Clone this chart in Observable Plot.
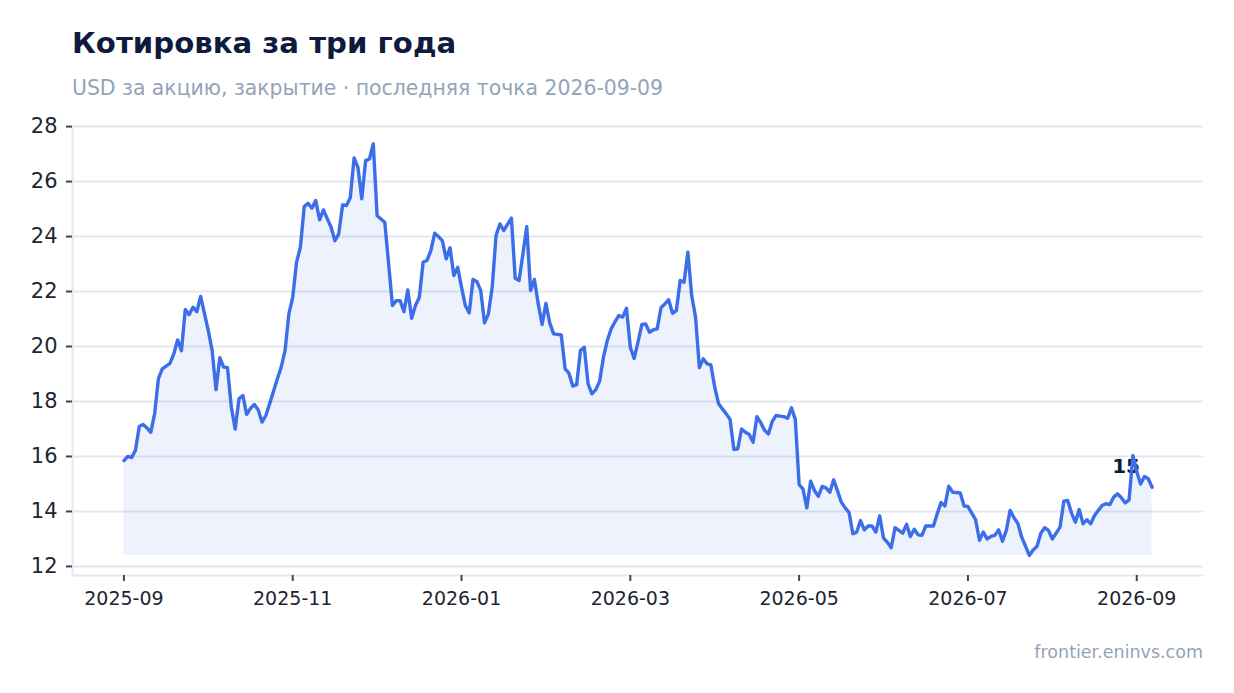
<!DOCTYPE html>
<html>
<head>
<meta charset="utf-8">
<script src="https://cdn.jsdelivr.net/npm/d3@7"></script>
<script src="https://cdn.jsdelivr.net/npm/@observablehq/plot@0.6"></script>
<style>
  html, body { margin: 0; padding: 0; background: #ffffff; }
  #wrap { position: relative; width: 1234px; height: 693px; font-family: "DejaVu Sans", sans-serif; }
  .title { position: absolute; left: 72px; top: 29px; font-size: 29.2px; line-height: 1; font-weight: bold; color: #0f1b3d; white-space: nowrap; }
  .subtitle { position: absolute; left: 72px; top: 78px; font-size: 20.4px; line-height: 1; color: #94a3b8; white-space: nowrap; }
  .caption { position: absolute; right: 31px; top: 644px; font-size: 17.5px; line-height: 1; color: #94a3b8; white-space: nowrap; }
  #chart { position: absolute; left: 0; top: 105px; }
</style>
</head>
<body>
<div id="wrap">
  <div class="title">Котировка за три года</div>
  <div class="subtitle">USD за акцию, закрытие · последняя точка 2026-09-09</div>
  <div id="chart"></div>
  <div class="caption">frontier.eninvs.com</div>
</div>
<script>
// Closing price per trading session (index 0 = first session of 2025-09)
const prices = [
  15.85, 16.0, 15.96, 16.22, 17.09, 17.16, 17.04, 16.88, 17.55, 18.83,
  19.19, 19.29, 19.39, 19.73, 20.24, 19.85, 21.35, 21.16, 21.43, 21.27,
  21.82, 21.2, 20.58, 19.85, 18.43, 19.59, 19.25, 19.23, 17.79, 17.0,
  18.1, 18.22, 17.53, 17.75, 17.89, 17.7, 17.25, 17.49, 17.93, 18.37,
  18.83, 19.25, 19.85, 21.19, 21.79, 23.07, 23.61, 25.09, 25.21, 25.03,
  25.31, 24.61, 24.97, 24.65, 24.34, 23.85, 24.1, 25.15, 25.13, 25.41,
  26.86, 26.52, 25.37, 26.76, 26.82, 27.37, 24.76, 24.64, 24.52, 23.0,
  21.49, 21.67, 21.67, 21.27, 22.06, 21.03, 21.49, 21.79, 23.07, 23.13,
  23.49, 24.12, 24.0, 23.85, 23.19, 23.59, 22.58, 22.88, 22.16, 21.49,
  21.22, 22.44, 22.36, 22.04, 20.86, 21.19, 22.16, 24.04, 24.46, 24.22,
  24.45, 24.67, 22.48, 22.4, 23.37, 24.36, 22.04, 22.44, 21.55, 20.8,
  21.57, 20.86, 20.46, 20.44, 20.42, 19.19, 19.03, 18.56, 18.61, 19.85,
  19.97, 18.64, 18.28, 18.43, 18.74, 19.61, 20.22, 20.64, 20.9, 21.13,
  21.07, 21.39, 19.97, 19.57, 20.16, 20.8, 20.82, 20.52, 20.61, 20.64,
  21.41, 21.55, 21.7, 21.21, 21.31, 22.4, 22.34, 23.43, 21.85, 21.07,
  19.23, 19.55, 19.37, 19.33, 18.52, 17.92, 17.73, 17.55, 17.35, 16.25,
  16.28, 17.0, 16.88, 16.8, 16.52, 17.45, 17.23, 16.95, 16.82, 17.28,
  17.49, 17.47, 17.45, 17.39, 17.77, 17.35, 14.98, 14.82, 14.13, 15.1,
  14.76, 14.55, 14.91, 14.86, 14.7, 15.15, 14.75, 14.34, 14.13, 13.97,
  13.19, 13.25, 13.67, 13.33, 13.47, 13.47, 13.25, 13.84, 13.03, 12.88,
  12.68, 13.41, 13.31, 13.21, 13.53, 13.09, 13.35, 13.15, 13.13, 13.47,
  13.47, 13.47, 13.92, 14.33, 14.2, 14.92, 14.7, 14.69, 14.67, 14.2,
  14.18, 13.94, 13.7, 12.95, 13.25, 13.0, 13.09, 13.13, 13.33, 12.92,
  13.31, 14.04, 13.77, 13.57, 13.07, 12.74, 12.4, 12.6, 12.73, 13.21,
  13.41, 13.31, 13.0, 13.21, 13.43, 14.37, 14.4, 13.94, 13.61, 14.07,
  13.55, 13.7, 13.55, 13.85, 14.04, 14.22, 14.28, 14.25, 14.52, 14.64,
  14.5, 14.31, 14.42, 16.04, 15.45, 15.0, 15.27, 15.19, 14.88
];

// x-axis ticks: session index of each labelled month, and its label
const tickSessions = [0, 44, 88, 132, 176, 220, 264];
const tickLabels = ["2025-09", "2025-11", "2026-01", "2026-03", "2026-05", "2026-07", "2026-09"];

// y-axis ticks
const yTicks = [12, 14, 16, 18, 20, 22, 24, 26, 28];

// label shown at the last point
const lastLabel = "15";

const data = prices.map((v, i) => ({i, v}));
const n = prices.length - 1;
const padX = n * 0.05;
const xDomain = [-padX, n + padX];
const yMin = d3.min(prices);
const yDomain = [11.67, 28.04];
const labelMap = new Map(tickSessions.map((t, k) => [t, tickLabels[k]]));

const lineColor = "#3b6ee8";
const gridColor = "#e3e7f0";
const inkColor = "#1f2433";

const chart = Plot.plot({
  width: 1234,
  height: 540,
  marginLeft: 72,
  marginRight: 31,
  marginTop: 20,
  marginBottom: 70,
  style: { fontFamily: "DejaVu Sans", background: "transparent", overflow: "visible" },
  x: { type: "linear", domain: xDomain, label: null },
  y: { type: "linear", domain: yDomain, label: null },
  marks: [
    Plot.gridY(yTicks, { stroke: gridColor, strokeOpacity: 1, strokeWidth: 2 }),
    Plot.ruleX([xDomain[0]], { stroke: gridColor, strokeWidth: 2 }),
    Plot.ruleY([yDomain[0]], { stroke: gridColor, strokeWidth: 2 }),
    Plot.areaY(data, { x: "i", y1: yMin, y2: "v", fill: lineColor, fillOpacity: 0.09 }),
    Plot.text([data[n]], { x: "i", y: "v", text: () => lastLabel, dx: -26, dy: -21, fontSize: 20, fontWeight: "bold", fill: "#0f1b3d" }),
    Plot.lineY(data, { x: "i", y: "v", stroke: lineColor, strokeWidth: 3.4, strokeLinejoin: "round", strokeLinecap: "round" }),
    Plot.axisY(yTicks, { label: null, tickSize: 6, tickPadding: 9, fontSize: 21, stroke: "#3d4556", fill: inkColor, strokeWidth: 2 }),
    Plot.axisX(tickSessions, { label: null, tickSize: 6, tickPadding: 10, fontSize: 19, stroke: "#3d4556", fill: inkColor, strokeWidth: 2, tickFormat: d => labelMap.get(d) })
  ]
});
document.getElementById("chart").appendChild(chart);
</script>
</body>
</html>
